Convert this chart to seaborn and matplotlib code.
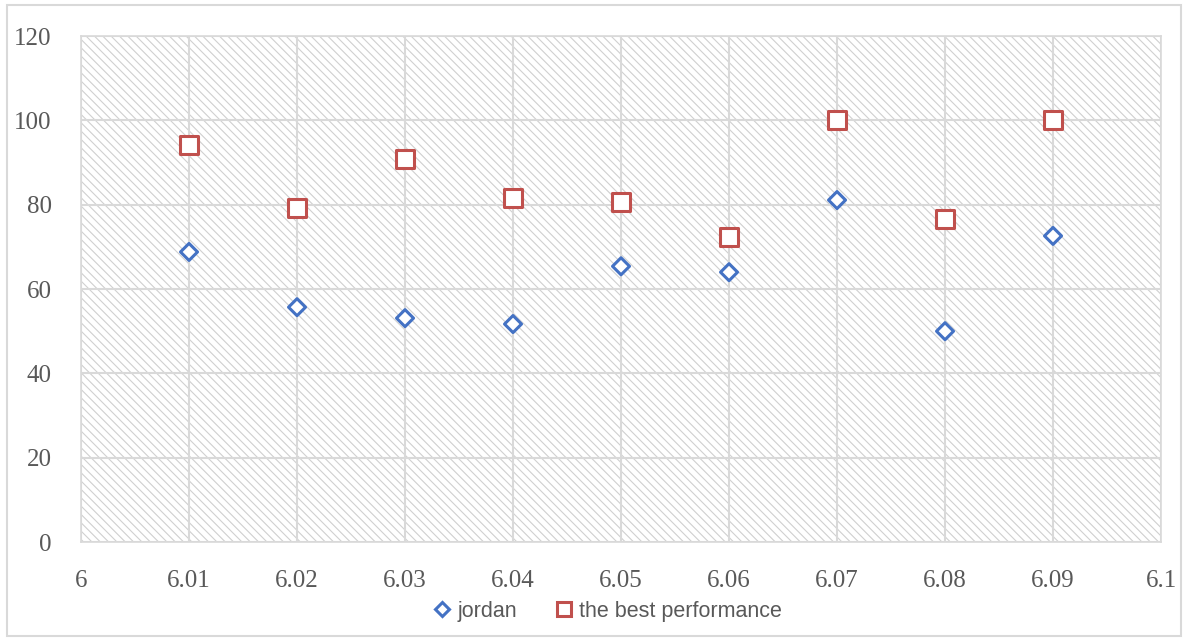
import pandas as pd
import matplotlib.pyplot as plt
import seaborn as sns
from matplotlib.patches import Rectangle

# Values
x_values = [6.01, 6.02, 6.03, 6.04, 6.05, 6.06, 6.07, 6.08, 6.09]
jordan = [68.8, 55.7, 53.1, 51.7, 65.4, 64.0, 81.1, 50.0, 72.6]
best = [94.1, 79.2, 90.8, 81.6, 80.6, 72.3, 100.0, 76.6, 100.0]
x_ticks = [6.0, 6.01, 6.02, 6.03, 6.04, 6.05, 6.06, 6.07, 6.08, 6.09, 6.1]
x_tick_labels = ["6", "6.01", "6.02", "6.03", "6.04", "6.05", "6.06", "6.07", "6.08", "6.09", "6.1"]
y_ticks = [0, 20, 40, 60, 80, 100, 120]

df = pd.DataFrame({
    "x": x_values * 2,
    "y": jordan + best,
    "series": ["jordan"] * len(jordan) + ["the best performance"] * len(best),
})
cols = {"jordan": "#4472C4", "the best performance": "#C0504D"}

sns.set_style("white")
plt.rcParams["hatch.linewidth"] = 0.8
plt.rcParams["hatch.color"] = "#d0d0d0"

fig = plt.figure(figsize=(11.88, 6.4), dpi=100)
ax = fig.add_axes([0.0682, 0.153, 0.9091, 0.7907])

# hatched plot area background
ax.add_patch(Rectangle((0, 0), 1, 1, transform=ax.transAxes, facecolor="white",
                       edgecolor="#d0d0d0", hatch="\\" * 4, linewidth=0, zorder=0))

sns.scatterplot(data=df, x="x", y="y", hue="series", style="series",
                palette=cols, markers={"jordan": "D", "the best performance": "s"},
                ax=ax, legend=False, zorder=3)

# make markers hollow
offs = ax.collections[0]
offs.set_facecolor("white")
offs.set_linewidth(2.2)
offs.set_edgecolor([cols[s] for s in df["series"]])
offs.set_sizes([75 if s == "jordan" else 165 for s in df["series"]])

ax.set_xlim(6.0, 6.1)
ax.set_ylim(0, 120)
ax.set_xticks(x_ticks)
ax.set_xticklabels(x_tick_labels)
ax.set_yticks(y_ticks)
ax.grid(True, color="#d9d9d9", linewidth=1.5)
ax.set_axisbelow(True)
for sp in ax.spines.values():
    sp.set_visible(True)
    sp.set_color("#d9d9d9")
    sp.set_linewidth(1.2)
ax.tick_params(axis="both", length=0, labelsize=18, labelcolor="#595959")
ax.tick_params(axis="y", pad=21)
ax.tick_params(axis="x", pad=20)
for lab in ax.get_xticklabels() + ax.get_yticklabels():
    lab.set_family("Liberation Serif")
ax.set_xlabel("")
ax.set_ylabel("")

# legend
handles = [
    plt.Line2D([], [], marker="D", linestyle="", markersize=7, markerfacecolor="white",
               markeredgecolor=cols["jordan"], markeredgewidth=2.2, label="jordan"),
    plt.Line2D([], [], marker="s", linestyle="", markersize=10, markerfacecolor="white",
               markeredgecolor=cols["the best performance"], markeredgewidth=2.2,
               label="the best performance"),
]
leg = fig.legend(handles=handles, loc="center", bbox_to_anchor=(0.51, 0.045), ncol=2,
                 frameon=False, handletextpad=0.1, columnspacing=1.6, handlelength=1.2,
                 prop={"family": "Liberation Sans", "size": 15.5})
for t in leg.get_texts():
    t.set_color("#595959")

# outer chart border
fig.add_artist(Rectangle((0.006, 0.006), 0.988, 0.986, transform=fig.transFigure,
                         fill=False, edgecolor="#d9d9d9", linewidth=1.5))

fig.savefig("out.png", dpi=100)
